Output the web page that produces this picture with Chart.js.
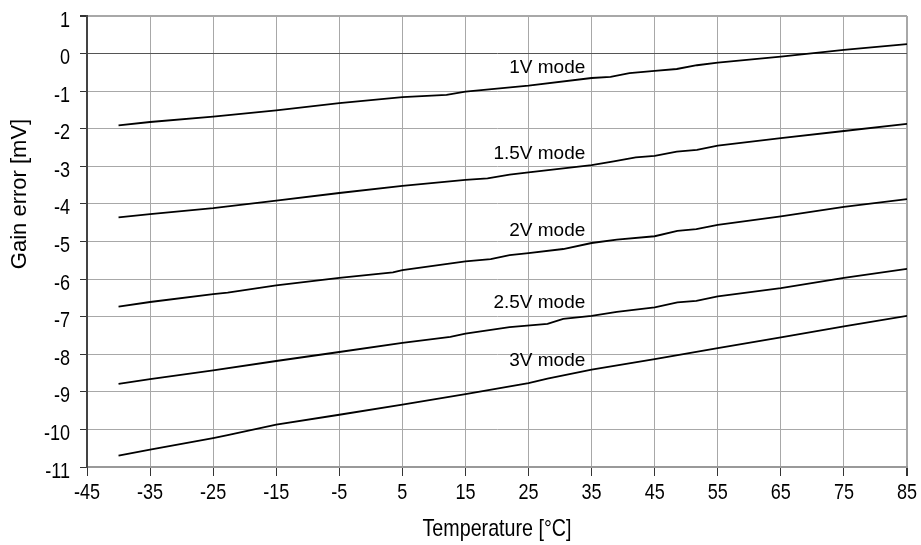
<!DOCTYPE html>
<html>
<head>
<meta charset="utf-8">
<script src="https://cdn.jsdelivr.net/npm/chart.js@4.4.1/dist/chart.umd.min.js"></script>
<style>
  body { margin: 0; background: #fff; }
  #wrap { width: 921px; height: 545px; position: relative; }
</style>
</head>
<body>
<div id="wrap"><canvas id="chart"></canvas></div>
<script>
// data (temperature in degC, gain error in mV)
const temps1V = [-40, -35, -25, -15, -5, 5, 12, 15, 25, 35, 38, 41, 45, 48.5, 51.7, 55, 65, 75, 85];
const gain1V = [-1.91, -1.82, -1.68, -1.51, -1.32, -1.16, -1.10, -1.01, -0.85, -0.65, -0.62, -0.52, -0.46, -0.41, -0.31, -0.24, -0.08, 0.10, 0.25];

const temps15V = [-40, -35, -25, -15, -5, 5, 15, 18.5, 22, 25, 35, 38.5, 42, 45, 48.5, 51.7, 55, 65, 75, 85];
const gain15V = [-4.36, -4.27, -4.11, -3.91, -3.71, -3.52, -3.36, -3.32, -3.22, -3.16, -2.97, -2.87, -2.76, -2.72, -2.61, -2.56, -2.45, -2.25, -2.06, -1.87];

const temps2V = [-40, -35, -25, -22.7, -15, -5, 3.5, 5, 15, 19, 22, 25, 30.5, 35, 39, 45, 48.6, 51.6, 55, 65, 75, 85];
const gain2V = [-6.73, -6.61, -6.40, -6.36, -6.17, -5.97, -5.82, -5.76, -5.53, -5.47, -5.36, -5.31, -5.20, -5.04, -4.95, -4.86, -4.72, -4.67, -4.56, -4.33, -4.08, -3.87];

const temps25V = [-40, -35, -25, -15, -5, 5, 12.6, 15, 22, 28, 30.5, 35, 39, 45, 48.6, 51.6, 55, 65, 75, 85];
const gain25V = [-8.79, -8.66, -8.43, -8.18, -7.94, -7.70, -7.54, -7.45, -7.28, -7.19, -7.06, -6.98, -6.87, -6.75, -6.62, -6.58, -6.46, -6.24, -5.97, -5.73];

const temps3V = [-40, -35, -25, -22.7, -15, -5, 5, 15, 25, 28, 35, 45, 55, 65, 75, 85];
const gain3V = [-10.70, -10.54, -10.23, -10.15, -9.87, -9.61, -9.34, -9.06, -8.77, -8.65, -8.41, -8.13, -7.84, -7.55, -7.26, -6.98];

// curve labels (right end temperature, centre gain)
const modeNames = ['1V mode', '1.5V mode', '2V mode', '2.5V mode', '3V mode'];
const labelTemp = [34, 34, 34, 34, 34];
const labelGain = [-0.39, -2.66, -4.71, -6.62, -8.17];

const xTitle = 'Temperature [°C]';
const yTitle = 'Gain error [mV]';

const regular = '"Liberation Sans", Arial, sans-serif';
const squeeze = 0.82; // no narrow face installed, so squeeze the regular one

function pts(xs, ys) {
    return xs.map((x, i) => ({ x: x, y: ys[i] }));
}

const series = [
    pts(temps1V, gain1V),
    pts(temps15V, gain15V),
    pts(temps2V, gain2V),
    pts(temps25V, gain25V),
    pts(temps3V, gain3V)
];

function narrowText(ctx, text, x, y) {
    ctx.save();
    ctx.translate(x, y);
    ctx.scale(squeeze, 1);
    ctx.fillText(text, 0, 0);
    ctx.restore();
}

// tick labels, curve labels and axis titles
const textPlugin = {
    id: 'curveText',
    afterDraw(chart) {
        const ctx = chart.ctx;
        const xs = chart.scales.x, ys = chart.scales.y;
        const area = chart.chartArea;
        ctx.save();
        ctx.fillStyle = '#000';

        ctx.font = '22px ' + regular;
        ctx.textBaseline = 'alphabetic';
        ctx.textAlign = 'right';
        ys.ticks.forEach(t => {
            narrowText(ctx, t.label, area.left - 17, ys.getPixelForValue(t.value) + 10.5);
        });
        ctx.textAlign = 'center';
        xs.ticks.forEach(t => {
            narrowText(ctx, t.label, xs.getPixelForValue(t.value), area.bottom + 32);
        });

        ctx.font = '19px ' + regular;
        ctx.textAlign = 'right';
        ctx.textBaseline = 'middle';
        for (let i = 0; i < modeNames.length; i++) {
            ctx.fillText(modeNames[i], xs.getPixelForValue(labelTemp[i]), ys.getPixelForValue(labelGain[i]));
        }

        ctx.font = '24px ' + regular;
        ctx.textAlign = 'center';
        ctx.textBaseline = 'alphabetic';
        narrowText(ctx, xTitle, (area.left + area.right) / 2, 536);

        ctx.font = '22px ' + regular;
        ctx.textBaseline = 'middle';
        ctx.translate(20, 194);
        ctx.rotate(-Math.PI / 2);
        ctx.fillText(yTitle, 0, 0);
        ctx.restore();
    }
};

new Chart(document.getElementById('chart'), {
    type: 'line',
    data: {
        datasets: series.map((d, i) => ({
            label: modeNames[i],
            data: d,
            borderColor: '#000',
            borderWidth: 1.8,
            pointRadius: 0,
            tension: 0,
            fill: false
        }))
    },
    options: {
        responsive: true,
        maintainAspectRatio: false,
        animation: false,
        layout: { padding: { top: 16, right: 14, left: 0, bottom: 0 } },
        plugins: { legend: { display: false }, tooltip: { enabled: false } },
        scales: {
            x: {
                type: 'linear',
                min: -45,
                max: 85,
                afterFit: s => { s.height = 78; },
                ticks: { stepSize: 10, display: false },
                grid: {
                    color: '#a8a8a8',
                    lineWidth: c => (c.tick && c.tick.value === 85 ? 2 : 1),
                    tickColor: '#333',
                    tickLength: 9
                },
                border: { color: '#999', width: 2 }
            },
            y: {
                min: -11,
                max: 1,
                afterFit: s => { s.width = 87; },
                ticks: { stepSize: 1, display: false },
                grid: {
                    color: c => (c.tick && c.tick.value === 0 ? '#555' : '#a8a8a8'),
                    lineWidth: c => (c.tick && c.tick.value === 1 ? 2 : 1),
                    tickColor: '#333',
                    tickLength: 7
                },
                border: { color: '#444', width: 2 }
            }
        }
    },
    plugins: [textPlugin]
});
</script>
</body>
</html>
